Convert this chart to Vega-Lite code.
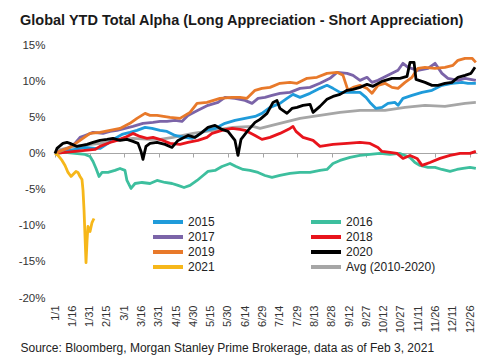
{
  "$schema": "https://vega.github.io/schema/vega-lite/v6.json",
  "width": 422,
  "height": 253,
  "autosize": {"type": "none"},
  "padding": {"left": 55, "top": 45, "right": 23, "bottom": 64},
  "background": "white",
  "config": {"view": {"stroke": null}, "font": "Liberation Sans"},
  "title": {
    "text": "Global YTD Total Alpha (Long Appreciation - Short Appreciation)",
    "anchor": "start",
    "frame": "group",
    "dx": -35,
    "offset": 11,
    "fontSize": 14.5,
    "fontWeight": "bold",
    "font": "Liberation Sans",
    "color": "#1a1a1a"
  },
  "data": {
    "values": [
      {"s":"2016","d":0,"v":0},{"s":"2016","d":8.7,"v":0.14},{"s":"2016","d":17.3,"v":0},{"s":"2016","d":26.0,"v":-0.14},{"s":"2016","d":30.4,"v":-0.42},{"s":"2016","d":33.0,"v":-1.11},{"s":"2016","d":35.6,"v":-2.08},{"s":"2016","d":38.2,"v":-3.19},{"s":"2016","d":40.8,"v":-2.63},{"s":"2016","d":46.0,"v":-2.63},{"s":"2016","d":52.0,"v":-2.35},{"s":"2016","d":56.4,"v":-2.08},{"s":"2016","d":60.7,"v":-2.35},{"s":"2016","d":62.4,"v":-3.74},{"s":"2016","d":65.9,"v":-4.85},{"s":"2016","d":69.4,"v":-4.16},{"s":"2016","d":75.5,"v":-4.02},{"s":"2016","d":82.4,"v":-4.16},{"s":"2016","d":88.5,"v":-3.74},{"s":"2016","d":95.4,"v":-4.02},{"s":"2016","d":101.5,"v":-4.16},{"s":"2016","d":106.7,"v":-4.43},{"s":"2016","d":111.9,"v":-4.71},{"s":"2016","d":117.1,"v":-4.43},{"s":"2016","d":123.2,"v":-3.74},{"s":"2016","d":128.4,"v":-3.05},{"s":"2016","d":132.7,"v":-2.49},{"s":"2016","d":138.8,"v":-2.35},{"s":"2016","d":144.8,"v":-1.8},{"s":"2016","d":151.8,"v":-1.39},{"s":"2016","d":157.0,"v":-1.8},{"s":"2016","d":163.1,"v":-2.22},{"s":"2016","d":169.1,"v":-2.35},{"s":"2016","d":176.1,"v":-2.63},{"s":"2016","d":182.1,"v":-3.05},{"s":"2016","d":188.2,"v":-3.32},{"s":"2016","d":195.1,"v":-3.05},{"s":"2016","d":203.8,"v":-2.77},{"s":"2016","d":212.5,"v":-2.63},{"s":"2016","d":221.2,"v":-2.63},{"s":"2016","d":229.8,"v":-2.35},{"s":"2016","d":235.9,"v":-2.22},{"s":"2016","d":241.1,"v":-1.39},{"s":"2016","d":247.2,"v":-0.97},{"s":"2016","d":255.9,"v":-0.55},{"s":"2016","d":264.5,"v":-0.28},{"s":"2016","d":273.2,"v":-0.14},{"s":"2016","d":281.9,"v":0},{"s":"2016","d":290.5,"v":-0.14},{"s":"2016","d":299.2,"v":0},{"s":"2016","d":303.6,"v":-0.28},{"s":"2016","d":307.9,"v":-0.55},{"s":"2016","d":312.2,"v":-1.25},{"s":"2016","d":316.6,"v":-1.66},{"s":"2016","d":323.5,"v":-1.94},{"s":"2016","d":329.6,"v":-1.94},{"s":"2016","d":335.6,"v":-2.22},{"s":"2016","d":342.6,"v":-2.49},{"s":"2016","d":348.6,"v":-2.22},{"s":"2016","d":353.9,"v":-2.08},{"s":"2016","d":359.9,"v":-1.94},{"s":"2016","d":365,"v":-2.08},

      {"s":"Avg (2010-2020)","d":0,"v":0},{"s":"Avg (2010-2020)","d":1.7,"v":0.42},{"s":"Avg (2010-2020)","d":13.0,"v":0.83},{"s":"Avg (2010-2020)","d":24.3,"v":1.11},{"s":"Avg (2010-2020)","d":39.0,"v":1.39},{"s":"Avg (2010-2020)","d":53.8,"v":1.8},{"s":"Avg (2010-2020)","d":67.6,"v":2.08},{"s":"Avg (2010-2020)","d":82.4,"v":1.94},{"s":"Avg (2010-2020)","d":91.1,"v":1.94},{"s":"Avg (2010-2020)","d":102.3,"v":2.22},{"s":"Avg (2010-2020)","d":119.7,"v":2.77},{"s":"Avg (2010-2020)","d":137.0,"v":3.19},{"s":"Avg (2010-2020)","d":154.4,"v":3.6},{"s":"Avg (2010-2020)","d":171.7,"v":3.74},{"s":"Avg (2010-2020)","d":177.8,"v":3.46},{"s":"Avg (2010-2020)","d":195.1,"v":4.16},{"s":"Avg (2010-2020)","d":212.5,"v":4.85},{"s":"Avg (2010-2020)","d":229.8,"v":5.26},{"s":"Avg (2010-2020)","d":247.2,"v":5.68},{"s":"Avg (2010-2020)","d":264.5,"v":5.96},{"s":"Avg (2010-2020)","d":273.2,"v":5.96},{"s":"Avg (2010-2020)","d":286.2,"v":5.96},{"s":"Avg (2010-2020)","d":303.6,"v":6.37},{"s":"Avg (2010-2020)","d":320.9,"v":6.65},{"s":"Avg (2010-2020)","d":338.2,"v":6.51},{"s":"Avg (2010-2020)","d":355.6,"v":6.93},{"s":"Avg (2010-2020)","d":365,"v":7.06},

      {"s":"2015","d":0,"v":0},{"s":"2015","d":8.7,"v":0.28},{"s":"2015","d":17.3,"v":0.55},{"s":"2015","d":26.0,"v":0.83},{"s":"2015","d":34.7,"v":0.69},{"s":"2015","d":39.0,"v":0.69},{"s":"2015","d":46.0,"v":1.39},{"s":"2015","d":52.0,"v":2.08},{"s":"2015","d":58.1,"v":2.63},{"s":"2015","d":65.0,"v":2.91},{"s":"2015","d":71.1,"v":3.19},{"s":"2015","d":78.1,"v":3.6},{"s":"2015","d":84.1,"v":3.46},{"s":"2015","d":91.1,"v":3.19},{"s":"2015","d":97.1,"v":3.05},{"s":"2015","d":104.1,"v":2.49},{"s":"2015","d":112.7,"v":2.22},{"s":"2015","d":118.8,"v":2.08},{"s":"2015","d":124.0,"v":2.49},{"s":"2015","d":130.1,"v":3.19},{"s":"2015","d":138.8,"v":3.46},{"s":"2015","d":147.4,"v":4.16},{"s":"2015","d":156.1,"v":4.57},{"s":"2015","d":164.8,"v":4.85},{"s":"2015","d":173.5,"v":5.12},{"s":"2015","d":179.5,"v":5.54},{"s":"2015","d":186.5,"v":6.37},{"s":"2015","d":195.1,"v":6.93},{"s":"2015","d":201.2,"v":7.62},{"s":"2015","d":206.4,"v":8.17},{"s":"2015","d":212.5,"v":7.76},{"s":"2015","d":221.2,"v":8.31},{"s":"2015","d":229.8,"v":9.0},{"s":"2015","d":235.9,"v":9.42},{"s":"2015","d":241.1,"v":9.0},{"s":"2015","d":247.2,"v":8.45},{"s":"2015","d":255.9,"v":8.45},{"s":"2015","d":264.5,"v":8.45},{"s":"2015","d":269.7,"v":7.76},{"s":"2015","d":273.2,"v":7.06},{"s":"2015","d":278.4,"v":6.23},{"s":"2015","d":283.6,"v":6.37},{"s":"2015","d":288.8,"v":6.93},{"s":"2015","d":294.9,"v":7.06},{"s":"2015","d":297.5,"v":6.65},{"s":"2015","d":301.8,"v":7.62},{"s":"2015","d":309.6,"v":8.03},{"s":"2015","d":318.3,"v":8.45},{"s":"2015","d":327.0,"v":8.73},{"s":"2015","d":335.6,"v":9.42},{"s":"2015","d":344.3,"v":9.7},{"s":"2015","d":353.0,"v":9.83},{"s":"2015","d":358.2,"v":9.7},{"s":"2015","d":365,"v":9.7},

      {"s":"2018","d":0,"v":0},{"s":"2018","d":8.7,"v":0.14},{"s":"2018","d":17.3,"v":0.28},{"s":"2018","d":26.0,"v":0.42},{"s":"2018","d":34.7,"v":0.55},{"s":"2018","d":39.0,"v":0.97},{"s":"2018","d":47.7,"v":1.52},{"s":"2018","d":53.8,"v":1.8},{"s":"2018","d":60.7,"v":2.22},{"s":"2018","d":67.6,"v":2.77},{"s":"2018","d":73.7,"v":2.35},{"s":"2018","d":79.8,"v":2.08},{"s":"2018","d":85.0,"v":2.22},{"s":"2018","d":93.7,"v":1.8},{"s":"2018","d":99.7,"v":1.39},{"s":"2018","d":108.4,"v":1.25},{"s":"2018","d":115.3,"v":1.52},{"s":"2018","d":124.0,"v":1.8},{"s":"2018","d":131.8,"v":2.22},{"s":"2018","d":136.2,"v":2.77},{"s":"2018","d":144.8,"v":3.19},{"s":"2018","d":153.5,"v":3.46},{"s":"2018","d":160.4,"v":3.32},{"s":"2018","d":164.8,"v":3.19},{"s":"2018","d":173.5,"v":2.49},{"s":"2018","d":179.5,"v":1.94},{"s":"2018","d":186.5,"v":2.22},{"s":"2018","d":195.1,"v":2.77},{"s":"2018","d":203.8,"v":3.46},{"s":"2018","d":206.4,"v":3.74},{"s":"2018","d":209.0,"v":3.05},{"s":"2018","d":215.1,"v":2.22},{"s":"2018","d":223.8,"v":1.8},{"s":"2018","d":229.8,"v":0.97},{"s":"2018","d":241.1,"v":1.25},{"s":"2018","d":253.3,"v":1.39},{"s":"2018","d":264.5,"v":1.52},{"s":"2018","d":273.2,"v":1.39},{"s":"2018","d":280.1,"v":0.83},{"s":"2018","d":283.6,"v":0.28},{"s":"2018","d":290.5,"v":0.14},{"s":"2018","d":296.6,"v":0},{"s":"2018","d":301.8,"v":-0.69},{"s":"2018","d":307.9,"v":-0.28},{"s":"2018","d":314.0,"v":-0.69},{"s":"2018","d":318.3,"v":-1.66},{"s":"2018","d":325.2,"v":-1.25},{"s":"2018","d":333.9,"v":-0.69},{"s":"2018","d":342.6,"v":-0.28},{"s":"2018","d":351.3,"v":0},{"s":"2018","d":359.9,"v":0},{"s":"2018","d":365,"v":0.28},

      {"s":"2017","d":0,"v":0},{"s":"2017","d":6.1,"v":0.42},{"s":"2017","d":11.3,"v":0.69},{"s":"2017","d":17.3,"v":1.39},{"s":"2017","d":21.7,"v":2.22},{"s":"2017","d":26.0,"v":2.49},{"s":"2017","d":33.0,"v":2.91},{"s":"2017","d":41.6,"v":2.77},{"s":"2017","d":47.7,"v":3.05},{"s":"2017","d":53.8,"v":3.19},{"s":"2017","d":60.7,"v":3.46},{"s":"2017","d":67.6,"v":3.74},{"s":"2017","d":76.3,"v":4.16},{"s":"2017","d":85.0,"v":4.29},{"s":"2017","d":91.1,"v":4.43},{"s":"2017","d":97.1,"v":4.43},{"s":"2017","d":104.1,"v":4.57},{"s":"2017","d":110.1,"v":4.43},{"s":"2017","d":115.3,"v":5.26},{"s":"2017","d":124.0,"v":5.96},{"s":"2017","d":132.7,"v":6.65},{"s":"2017","d":141.4,"v":7.06},{"s":"2017","d":147.4,"v":7.76},{"s":"2017","d":156.1,"v":7.62},{"s":"2017","d":164.8,"v":7.34},{"s":"2017","d":170.9,"v":6.93},{"s":"2017","d":176.1,"v":7.62},{"s":"2017","d":182.1,"v":7.76},{"s":"2017","d":188.2,"v":8.03},{"s":"2017","d":195.1,"v":8.31},{"s":"2017","d":203.8,"v":8.45},{"s":"2017","d":212.5,"v":9.0},{"s":"2017","d":221.2,"v":9.14},{"s":"2017","d":229.8,"v":9.7},{"s":"2017","d":238.5,"v":10.39},{"s":"2017","d":244.6,"v":11.22},{"s":"2017","d":253.3,"v":11.08},{"s":"2017","d":258.5,"v":10.8},{"s":"2017","d":264.5,"v":10.11},{"s":"2017","d":270.6,"v":10.53},{"s":"2017","d":274.9,"v":9.83},{"s":"2017","d":280.1,"v":10.11},{"s":"2017","d":288.8,"v":10.8},{"s":"2017","d":297.5,"v":11.5},{"s":"2017","d":301.8,"v":12.47},{"s":"2017","d":306.2,"v":11.91},{"s":"2017","d":314.8,"v":11.5},{"s":"2017","d":323.5,"v":11.77},{"s":"2017","d":329.6,"v":12.47},{"s":"2017","d":335.6,"v":11.08},{"s":"2017","d":340.8,"v":10.39},{"s":"2017","d":349.5,"v":10.11},{"s":"2017","d":355.6,"v":10.39},{"s":"2017","d":365,"v":10.11},

      {"s":"2019","d":0,"v":0},{"s":"2019","d":6.1,"v":0.42},{"s":"2019","d":13.0,"v":0.83},{"s":"2019","d":21.7,"v":1.8},{"s":"2019","d":30.4,"v":2.77},{"s":"2019","d":39.0,"v":2.91},{"s":"2019","d":47.7,"v":3.19},{"s":"2019","d":56.4,"v":3.46},{"s":"2019","d":65.0,"v":4.16},{"s":"2019","d":71.1,"v":4.85},{"s":"2019","d":78.1,"v":5.54},{"s":"2019","d":82.4,"v":5.26},{"s":"2019","d":88.5,"v":5.26},{"s":"2019","d":99.7,"v":4.99},{"s":"2019","d":108.4,"v":4.85},{"s":"2019","d":117.1,"v":5.68},{"s":"2019","d":123.2,"v":6.93},{"s":"2019","d":131.8,"v":7.06},{"s":"2019","d":143.1,"v":7.62},{"s":"2019","d":153.5,"v":7.76},{"s":"2019","d":160.4,"v":7.76},{"s":"2019","d":166.5,"v":7.62},{"s":"2019","d":173.5,"v":8.73},{"s":"2019","d":179.5,"v":9.0},{"s":"2019","d":186.5,"v":9.14},{"s":"2019","d":195.1,"v":9.7},{"s":"2019","d":203.8,"v":9.83},{"s":"2019","d":209.9,"v":9.7},{"s":"2019","d":218.6,"v":10.39},{"s":"2019","d":227.2,"v":10.53},{"s":"2019","d":235.9,"v":11.08},{"s":"2019","d":244.6,"v":11.22},{"s":"2019","d":249.8,"v":10.8},{"s":"2019","d":254.1,"v":8.73},{"s":"2019","d":258.5,"v":9.14},{"s":"2019","d":264.5,"v":9.42},{"s":"2019","d":270.6,"v":9.0},{"s":"2019","d":274.9,"v":8.31},{"s":"2019","d":280.1,"v":9.42},{"s":"2019","d":286.2,"v":9.7},{"s":"2019","d":292.3,"v":9.14},{"s":"2019","d":297.5,"v":9.0},{"s":"2019","d":303.6,"v":9.83},{"s":"2019","d":309.6,"v":10.53},{"s":"2019","d":314.8,"v":11.77},{"s":"2019","d":320.9,"v":11.91},{"s":"2019","d":329.6,"v":11.77},{"s":"2019","d":338.2,"v":11.91},{"s":"2019","d":345.2,"v":12.19},{"s":"2019","d":349.5,"v":12.88},{"s":"2019","d":355.6,"v":13.16},{"s":"2019","d":361.7,"v":13.16},{"s":"2019","d":365,"v":12.6},

      {"s":"2021","d":0,"v":0},{"s":"2021","d":2.6,"v":-0.28},{"s":"2021","d":6.1,"v":-0.97},{"s":"2021","d":8.7,"v":-1.66},{"s":"2021","d":11.3,"v":-2.63},{"s":"2021","d":13.9,"v":-3.19},{"s":"2021","d":15.6,"v":-2.91},{"s":"2021","d":18.2,"v":-2.49},{"s":"2021","d":19.9,"v":-2.63},{"s":"2021","d":21.7,"v":-3.19},{"s":"2021","d":23.4,"v":-3.6},{"s":"2021","d":24.3,"v":-5.12},{"s":"2021","d":25.2,"v":-7.89},{"s":"2021","d":26.0,"v":-11.36},{"s":"2021","d":26.9,"v":-15.1},{"s":"2021","d":27.8,"v":-12.05},{"s":"2021","d":28.6,"v":-10.11},{"s":"2021","d":29.5,"v":-10.53},{"s":"2021","d":30.4,"v":-10.8},{"s":"2021","d":32.1,"v":-9.56},{"s":"2021","d":33.8,"v":-9.0},

      {"s":"2020","d":0,"v":0},{"s":"2020","d":1.7,"v":0.69},{"s":"2020","d":6.9,"v":1.39},{"s":"2020","d":10.4,"v":1.52},{"s":"2020","d":13.0,"v":1.39},{"s":"2020","d":19.1,"v":0.97},{"s":"2020","d":27.8,"v":1.25},{"s":"2020","d":33.0,"v":1.52},{"s":"2020","d":39.0,"v":1.8},{"s":"2020","d":45.1,"v":1.94},{"s":"2020","d":50.3,"v":2.08},{"s":"2020","d":56.4,"v":1.8},{"s":"2020","d":62.4,"v":1.94},{"s":"2020","d":67.6,"v":1.66},{"s":"2020","d":72.0,"v":1.39},{"s":"2020","d":74.6,"v":0.28},{"s":"2020","d":76.3,"v":-0.83},{"s":"2020","d":78.9,"v":0.97},{"s":"2020","d":82.4,"v":1.39},{"s":"2020","d":88.5,"v":1.52},{"s":"2020","d":95.4,"v":1.25},{"s":"2020","d":101.5,"v":0.83},{"s":"2020","d":106.7,"v":1.8},{"s":"2020","d":115.3,"v":2.49},{"s":"2020","d":121.4,"v":2.22},{"s":"2020","d":127.5,"v":2.91},{"s":"2020","d":132.7,"v":3.6},{"s":"2020","d":138.8,"v":3.88},{"s":"2020","d":144.8,"v":3.32},{"s":"2020","d":150.0,"v":3.05},{"s":"2020","d":156.1,"v":1.8},{"s":"2020","d":158.7,"v":-0.28},{"s":"2020","d":161.3,"v":1.94},{"s":"2020","d":167.4,"v":3.19},{"s":"2020","d":173.5,"v":4.29},{"s":"2020","d":177.8,"v":4.71},{"s":"2020","d":183.9,"v":5.54},{"s":"2020","d":189.1,"v":7.06},{"s":"2020","d":192.5,"v":7.34},{"s":"2020","d":195.1,"v":6.23},{"s":"2020","d":201.2,"v":5.54},{"s":"2020","d":205.5,"v":6.23},{"s":"2020","d":209.9,"v":6.37},{"s":"2020","d":215.1,"v":6.65},{"s":"2020","d":221.2,"v":6.79},{"s":"2020","d":223.8,"v":5.68},{"s":"2020","d":229.8,"v":6.51},{"s":"2020","d":235.9,"v":7.48},{"s":"2020","d":241.1,"v":7.89},{"s":"2020","d":247.2,"v":8.17},{"s":"2020","d":253.3,"v":8.73},{"s":"2020","d":258.5,"v":8.86},{"s":"2020","d":264.5,"v":9.14},{"s":"2020","d":270.6,"v":9.56},{"s":"2020","d":275.8,"v":9.28},{"s":"2020","d":283.6,"v":9.97},{"s":"2020","d":292.3,"v":10.39},{"s":"2020","d":299.2,"v":10.39},{"s":"2020","d":305.3,"v":10.66},{"s":"2020","d":307.9,"v":12.6},{"s":"2020","d":311.4,"v":12.6},{"s":"2020","d":313.1,"v":10.25},{"s":"2020","d":320.9,"v":9.83},{"s":"2020","d":327.0,"v":9.42},{"s":"2020","d":332.2,"v":9.42},{"s":"2020","d":338.2,"v":9.7},{"s":"2020","d":344.3,"v":9.83},{"s":"2020","d":349.5,"v":10.53},{"s":"2020","d":355.6,"v":10.8},{"s":"2020","d":360.8,"v":11.08},{"s":"2020","d":364.3,"v":11.91}
    ]
  },
  "mark": {"type": "line", "strokeWidth": 2.8, "strokeJoin": "round"},
  "encoding": {
    "x": {
      "field": "d",
      "type": "quantitative",
      "scale": {"domain": [0, 366], "nice": false, "zero": false},
      "axis": {
        "values": [0,15,30,45,60,75,90,105,120,135,150,165,180,195,210,225,240,255,270,285,300,315,330,345,360],
        "labelExpr": "timeFormat(datetime(2020, 0, 1 + datum.value), '%-m/%-d')",
        "labelAngle": -90,
        "labelAlign": "right",
        "labelBaseline": "middle",
        "labelFontSize": 11,
        "labelColor": "#333333",
        "labelPadding": 148,
        "labelOverlap": false,
        "labelFlush": false,
        "offset": -145,
        "domainColor": "#a6a6a6",
        "domainWidth": 1,
        "tickColor": "#a6a6a6",
        "tickSize": 4,
        "tickOpacity": {"condition": {"test": "datum.value % 30 === 0", "value": 1}, "value": 0},
        "grid": false,
        "title": "Source: Bloomberg, Morgan Stanley Prime Brokerage, data as of Feb 3, 2021",
        "titleX": -35,
        "titleY": 198,
        "titleAlign": "left",
        "titleBaseline": "alphabetic",
        "titleFontWeight": "normal",
        "titleFontSize": 12,
        "titleColor": "#222222"
      }
    },
    "y": {
      "field": "v",
      "type": "quantitative",
      "scale": {"domain": [-20, 15], "nice": false},
      "axis": {
        "values": [-20,-15,-10,-5,0,5,10,15],
        "labelExpr": "datum.value + '%'",
        "domain": false,
        "ticks": false,
        "grid": false,
        "labelFontSize": 11.5,
        "labelColor": "#333333",
        "labelPadding": 10,
        "title": null
      }
    },
    "color": {
      "field": "s",
      "type": "nominal",
      "scale": {
        "domain": ["2015","2017","2019","2021","2016","2018","2020","Avg (2010-2020)"],
        "range": ["#1f9bda","#7b64a8","#e8792a","#f6b71a","#3dbf9e","#e8141c","#000000","#a6a6a6"]
      },
      "legend": {
        "orient": "none",
        "legendX": 106,
        "legendY": 170,
        "columns": 2,
        "columnPadding": 88,
        "rowPadding": -1,
        "title": null,
        "symbolType": "M-3,0L3,0",
        "symbolSize": 100,
        "symbolStrokeWidth": 4,
        "labelFontSize": 12,
        "labelOffset": 13,
        "labelColor": "#222222"
      }
    }
  }
}
